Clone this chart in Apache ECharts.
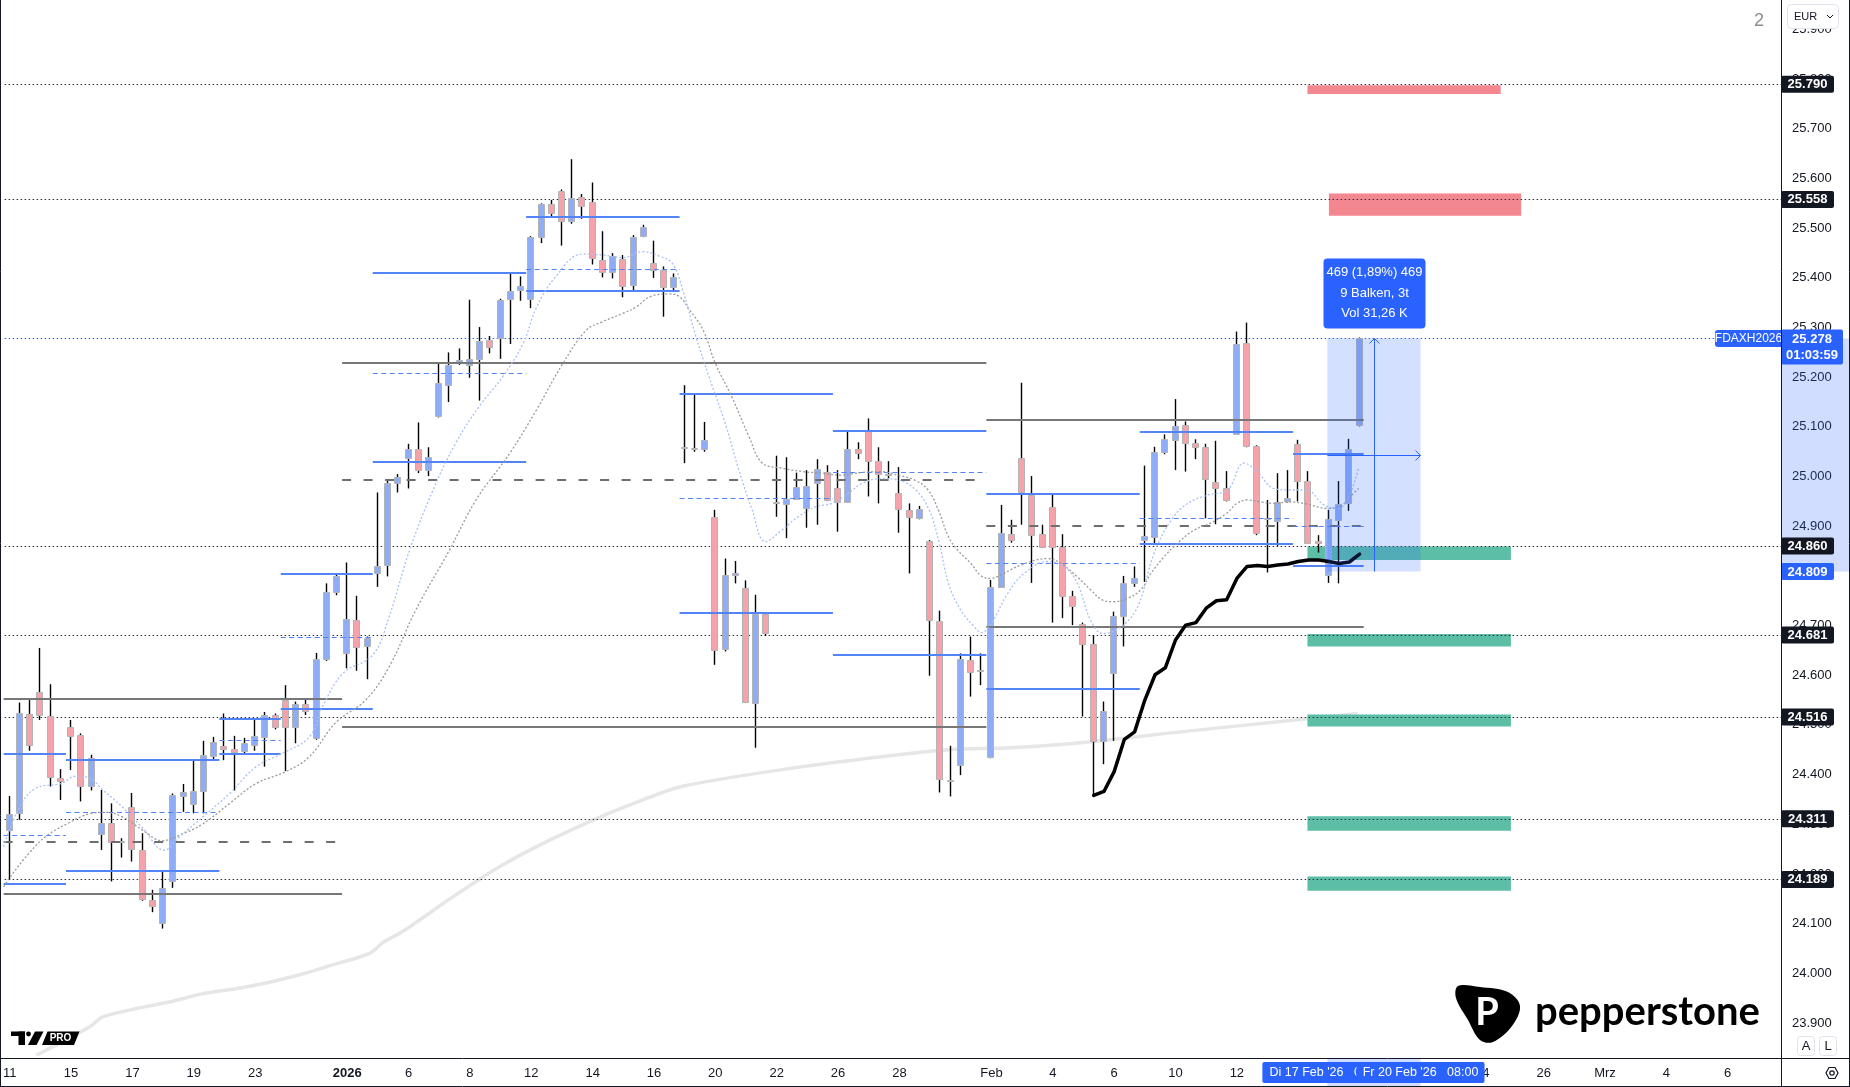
<!DOCTYPE html>
<html><head><meta charset="utf-8">
<script src="https://cdn.jsdelivr.net/npm/echarts@6/dist/echarts.min.js"></script>
<style>html,body{margin:0;padding:0;background:#fff}#c{width:1850px;height:1087px}</style>
</head><body><div id="c"></div>
<script>
// ---------- DATA ----------
// trading-day labels (one per trading day, 3 bars per day), '' = no label
const dayLabels = ['11','','15','','17','','19','','23','','','2026','','6','','8','','12','','14','','16','','20','','22','','26','','28','','','Feb','','4','','6','','10','','12','','16','','18','','20','','24','','26','','Mrz','','4','','6',''];
const opens = [24287,24322,24521,24566,24517,24393,24496,24479,24376,24281,24303,24266,24334,24248,24148,24101,24185,24356,24340,24366,24436,24457,24452,24446,24459,24475,24519,24550,24495,24542,24473,24632,24767,24644,24711,24659,24805,24821,24986,25036,25055,25012,25122,25185,25227,25224,25236,25275,25280,25357,25376,25357,25482,25549,25574,25514,25562,25552,25437,25413,25439,25385,25483,25429,25415,25381,25060,25057,25055,24919,24652,24801,24775,24544,24723,24948,24944,24956,24938,24986,25010,24978,24950,25056,25091,25032,25005,24966,24933,24916,24871,24710,24389,24419,24631,24611,24435,24778,24884,25037,24963,24884,24939,24859,24760,24703,24662,24468,24604,24719,24785,24872,24878,25048,25072,25103,25067,25060,24990,24976,25086,25268,25062,24916,24909,24950,25065,24991,24871,24802,24913,24946,25102];
const highs = [24357,24545,24550,24655,24582,24411,24510,24483,24440,24369,24342,24272,24363,24282,24168,24208,24362,24381,24429,24468,24476,24523,24478,24474,24510,24526,24523,24580,24547,24552,24645,24785,24802,24827,24760,24678,24968,24993,25005,25066,25109,25059,25228,25250,25258,25356,25301,25283,25358,25411,25403,25484,25550,25557,25578,25639,25569,25592,25494,25450,25446,25486,25507,25475,25423,25409,25184,25166,25110,24933,24835,24830,24791,24762,24725,25042,25039,25008,25013,25035,25023,25013,25092,25069,25117,25059,25031,25019,24946,24941,24872,24730,24458,24644,24678,24644,24792,24943,24913,25189,25001,24903,24963,24884,24770,24706,24681,24547,24728,24800,24819,25022,25060,25085,25156,25111,25075,25066,25072,25011,25292,25310,25063,24953,25007,25013,25074,25011,24882,24933,24991,25076,25280];
const lows = [24188,24309,24448,24510,24376,24349,24409,24346,24368,24248,24185,24233,24225,24146,24123,24090,24172,24325,24322,24322,24429,24429,24368,24441,24448,24416,24491,24407,24463,24520,24470,24629,24761,24614,24609,24592,24778,24799,24968,24976,25007,25001,25119,25150,25225,25199,25153,25248,25237,25267,25354,25339,25470,25523,25465,25509,25519,25427,25401,25399,25361,25374,25482,25400,25322,25372,25027,25050,25050,24621,24648,24785,24544,24454,24679,24919,24876,24955,24897,24903,24952,24889,24948,25035,24960,24946,24995,24887,24805,24914,24599,24364,24356,24399,24557,24580,24433,24777,24867,24903,24786,24856,24706,24715,24701,24517,24359,24421,24468,24658,24778,24788,24866,25045,25013,25010,25035,24916,24904,24950,25084,25059,24882,24807,24860,24948,24950,24866,24847,24786,24785,24931,25101];
const closes = [24320,24523,24458,24519,24395,24386,24478,24377,24433,24303,24264,24265,24249,24149,24136,24171,24358,24364,24366,24439,24465,24450,24446,24463,24477,24519,24495,24495,24542,24527,24632,24767,24800,24713,24656,24676,24820,24987,24999,25055,25012,25039,25188,25225,25234,25236,25273,25260,25356,25374,25384,25482,25548,25530,25514,25560,25544,25439,25413,25445,25385,25482,25502,25415,25381,25401,25060,25056,25074,24652,24801,24805,24545,24723,24684,24948,24954,24980,24982,25015,24953,24950,25056,25047,25031,25005,25003,24933,24918,24934,24711,24391,24388,24632,24607,24609,24778,24886,24872,24968,24882,24857,24859,24760,24739,24662,24466,24528,24719,24785,24795,24880,25049,25075,25101,25067,25059,24995,24978,24952,25267,25060,24886,24915,24948,24956,24990,24867,24866,24914,24945,25055,25278];

// indicator lines [barIndex, price]
const fastMA = [[-0.6,24255],[0.9,24332],[2.5,24372],[5.0,24382],[6.5,24397],[7.8,24393],[9.1,24369],[11.0,24335],[13.0,24292],[15.1,24248],[16.6,24275],[18.9,24315],[21.5,24362],[24.1,24416],[26.7,24443],[29.3,24476],[30.6,24537],[32.6,24604],[35.5,24641],[37.1,24718],[39.1,24852],[41.4,24973],[43.6,25067],[45.9,25141],[48.2,25201],[50.2,25268],[51.5,25340],[53.3,25400],[56.0,25448],[58.0,25446],[60.0,25441],[61.9,25453],[63.5,25444],[64.8,25429],[65.8,25376],[67.1,25282],[68.4,25200],[70.0,25105],[71.3,25013],[72.6,24933],[73.9,24869],[75.5,24892],[77.1,24919],[78.8,24939],[80.4,24946],[82.0,24966],[83.3,24986],[85.3,24996],[86.9,24993],[88.6,24973],[89.9,24933],[90.9,24866],[91.8,24785],[93.0,24731],[94.3,24698],[95.0,24686],[96.0,24705],[97.6,24765],[99.2,24805],[101.5,24829],[103.1,24819],[104.4,24785],[105.7,24711],[106.9,24684],[108.7,24698],[110.3,24738],[111.9,24845],[113.6,24913],[115.2,24946],[117.2,24963],[119.1,24973],[120.7,25027],[122.0,25010],[123.6,24976],[125.2,24973],[126.8,24973],[128.5,24943],[129.8,24936],[130.8,24953],[131.9,25017]];
const slowMA = [[-0.6,24174],[0.3,24201],[1.9,24242],[3.5,24275],[5.8,24303],[7.8,24321],[9.4,24324],[11.0,24315],[13.0,24288],[14.9,24267],[16.6,24278],[18.9,24301],[21.5,24342],[24.1,24382],[27.0,24406],[29.3,24436],[31.9,24505],[34.8,24550],[37.1,24617],[39.7,24731],[43.0,24852],[45.6,24953],[48.9,25047],[51.5,25134],[54.1,25228],[56.4,25295],[58.0,25312],[60.0,25329],[61.3,25342],[62.6,25362],[64.5,25368],[65.5,25362],[66.5,25335],[67.8,25295],[69.0,25228],[70.6,25161],[72.3,25080],[73.6,25027],[75.5,25017],[77.5,25010],[79.4,25007],[81.3,25003],[83.2,25008],[85.2,25010],[86.8,25003],[88.5,24993],[89.8,24973],[90.8,24933],[91.8,24879],[92.7,24852],[94.0,24825],[95.0,24800],[96.0,24795],[96.9,24802],[98.9,24822],[101.5,24835],[102.8,24825],[104.4,24798],[105.7,24772],[106.9,24751],[107.9,24748],[109.3,24755],[110.6,24772],[111.6,24805],[112.9,24839],[114.2,24866],[115.8,24892],[117.4,24906],[119.0,24926],[120.0,24946],[121.0,24953],[122.3,24949],[123.6,24946],[125.2,24949],[126.8,24945],[128.8,24936],[130.1,24940],[131.1,24960],[131.9,24976]];
const longMA = [[2.6,23835],[7.8,23892],[9.1,23912],[12.4,23929],[15.6,23942],[18.9,23959],[22.1,23969],[25.4,23982],[28.7,23999],[31.9,24019],[35.2,24040],[36.5,24062],[38.5,24085],[43.2,24152],[48.1,24217],[53.0,24270],[57.9,24316],[61.8,24348],[65.7,24376],[75.5,24410],[85.2,24436],[91.8,24450],[97.9,24454],[104.7,24464],[114.5,24486],[124.3,24507],[131.8,24523]];
const anchoredLine = [[106,24358],[107,24366],[108,24406],[109,24471],[110,24486],[111,24550],[112,24601],[113,24615],[114,24671],[115,24701],[116,24706],[117,24735],[118,24750],[119,24752],[120,24795],[121,24819],[122,24821],[123,24819],[124,24822],[125,24824],[126,24829],[127,24832],[128,24832],[129,24829],[130,24825],[131,24828],[132,24844]];

// level segments [fromBar, toBar, price]
const monthlyLevels = [[-0.6,32.5,24553],[-0.6,32.5,24160],[32.5,95.5,25229],[32.5,95.5,24496],[95.5,132.4,25113],[95.5,132.4,24698]];
const monthlyMid = [[-0.6,32.5,24264],[32.5,95.5,24994],[95.5,132.4,24900]];
const weeklyLevels = [[-0.6,5.5,24442],[-0.6,5.5,24180],[5.5,20.5,24430],[5.5,20.5,24205],[20.5,26.5,24511],[20.5,26.5,24442],[26.5,35.5,24803],[26.5,35.5,24532],[35.5,50.5,25410],[35.5,50.5,25030],[50.5,65.5,25523],[50.5,65.5,25374],[65.5,80.5,25166],[65.5,80.5,24726],[80.5,95.5,25092],[80.5,95.5,24641],[95.5,110.5,24964],[95.5,110.5,24572],[110.5,125.5,25090],[110.5,125.5,24864],[125.5,132.4,25046],[125.5,132.4,24819]];
const weeklyMid = [[-0.6,5.5,24278],[5.5,20.5,24325],[20.5,26.5,24470],[26.5,35.5,24677],[35.5,50.5,25208],[50.5,65.5,25418],[65.5,80.5,24956],[80.5,95.5,25010],[95.5,110.5,24825],[110.5,125.5,24916],[125.5,132.4,24900]];
const dottedLevels = [25790,25558,24860,24681,24516,24311,24189];
const lastPrice = 25278;
const countdown = '01:03:59';
const symbolName = 'FDAXH2026';
// zones [fromBar, toBar, top, bottom]
const redZones = [[126.9,145.8,25788,25770],[129.0,147.8,25570,25525]];
const greenZones = [[126.9,146.8,24859,24832],[126.9,146.8,24683,24658],[126.9,146.8,24521,24497],[126.9,146.8,24316,24287],[126.9,146.8,24195,24166]];
// measurement [fromBar, toBar, low, high]
const measure = [128.85,137.96,24809,25278];
const measureText = ['469 (1,89%) 469','9 Balken, 3t','Vol 31,26 K'];
const measureDates = ["Di 17 Feb '26   08:00","Fr 20 Feb '26   08:00"];

// ---------- CHART ----------
const X_MIN = -0.5, X_MAX = 173.21, Y_MIN = 23800, Y_MAX = 25959.5;
const FONT = '"Liberation Sans", Arial, sans-serif';
const fmt = v => (v/1000).toFixed(3);
const labelIdx = []; dayLabels.forEach((t,d)=>{ if(t) labelIdx.push(d*3); });
const candleData = opens.map((o,i)=>[i,o,highs[i],lows[i],closes[i]]);

function segRender(color, width, dash){
  return function(params, api){
    const a = api.coord([api.value(0), api.value(2)]);
    const b = api.coord([api.value(1), api.value(2)]);
    const y = Math.round(a[1]) + (width % 2 ? 0.5 : 0);
    return {type:'line', shape:{x1:a[0], y1:y, x2:b[0], y2:y},
      style:{stroke:color, lineWidth:width, lineDash:dash||null}};
  };
}
function zoneRender(color){
  return function(params, api){
    const a = api.coord([api.value(0), api.value(2)]);
    const b = api.coord([api.value(1), api.value(3)]);
    return {type:'rect', shape:{x:a[0], y:a[1], width:b[0]-a[0], height:b[1]-a[1]}, style:{fill:color}};
  };
}
function candleRender(params, api){
  const i = api.value(0), o = api.value(1), h = api.value(2), l = api.value(3), c = api.value(4);
  const pO = api.coord([i,o]), pC = api.coord([i,c]), pH = api.coord([i,h]), pL = api.coord([i,l]);
  const cx = Math.round(pO[0]);
  const top = Math.min(pO[1], pC[1]), bot = Math.max(pO[1], pC[1]);
  const up = c >= o;
  return {type:'group', children:[
    {type:'line', shape:{x1:cx-0.5, y1:pH[1], x2:cx-0.5, y2:pL[1]}, style:{stroke:'#000', lineWidth:1.4}},
    {type:'rect', shape:{x:cx-3.5, y:Math.round(top)+0.5, width:6, height:Math.max(1, Math.round(bot-top))},
      style:{fill: up ? '#8fadf7' : '#f5a2aa', stroke:'#b3b3b3', lineWidth:1}}
  ]};
}
function tagRender(bg, w){
  return function(params, api){
    const v = api.value(1);
    const p = api.coord([X_MAX, v]);
    return {type:'group', children:[
      {type:'rect', shape:{x:1781, y:p[1]-8.5, width:w, height:17, r:2}, style:{fill:bg}},
      {type:'text', style:{x:1781+w/2, y:p[1]+0.5, text:fmt(v), fill:'#fff', font:'bold 13px '+FONT, align:'center', verticalAlign:'middle', textAlign:'center', textVerticalAlign:'middle'}}
    ]};
  };
}
function lastPriceRender(params, api){
  const v = api.value(1);
  const p = api.coord([X_MAX, v]);
  return {type:'group', children:[
    {type:'rect', shape:{x:1715, y:p[1]-8.5, width:67, height:17, r:[3,0,0,3]}, style:{fill:'#2962ff'}},
    {type:'text', style:{x:1748.5, y:p[1]+0.5, text:symbolName, fill:'#fff', font:'12px '+FONT, align:'center', verticalAlign:'middle', textAlign:'center', textVerticalAlign:'middle'}},
    {type:'rect', shape:{x:1781, y:p[1]-9, width:62, height:35, r:2}, style:{fill:'#2962ff'}},
    {type:'text', style:{x:1812, y:p[1]+0.5, text:fmt(v), fill:'#fff', font:'bold 13px '+FONT, align:'center', verticalAlign:'middle', textAlign:'center', textVerticalAlign:'middle'}},
    {type:'text', style:{x:1812, y:p[1]+17, text:countdown, fill:'#fff', font:'bold 13px '+FONT, align:'center', verticalAlign:'middle', textAlign:'center', textVerticalAlign:'middle'}}
  ]};
}
function measureRender(params, api){
  const a = api.coord([api.value(0), api.value(3)]);
  const b = api.coord([api.value(1), api.value(2)]);
  const xm = Math.round((a[0]+b[0])/2)+0.5, ym = Math.round((a[1]+b[1])/2)+0.5;
  const blue = '#2962ff';
  const txt = (x,y,t,f) => ({type:'text', style:{x:x, y:y, text:t, fill:'#fff', font:f, align:'center', verticalAlign:'middle', textAlign:'center', textVerticalAlign:'middle'}});
  return {type:'group', children:[
    {type:'rect', shape:{x:a[0], y:a[1], width:b[0]-a[0], height:b[1]-a[1]}, style:{fill:'rgba(41,98,255,0.2)'}},
    {type:'line', shape:{x1:xm, y1:b[1], x2:xm, y2:a[1]}, style:{stroke:blue, lineWidth:1}},
    {type:'polyline', shape:{points:[[xm-5,a[1]+5],[xm,a[1]],[xm+5,a[1]+5]]}, style:{stroke:blue, lineWidth:1, fill:null}},
    {type:'line', shape:{x1:a[0], y1:ym, x2:b[0], y2:ym}, style:{stroke:blue, lineWidth:1}},
    {type:'polyline', shape:{points:[[b[0]-5,ym-5],[b[0],ym],[b[0]-5,ym+5]]}, style:{stroke:blue, lineWidth:1, fill:null}},
    {type:'rect', shape:{x:xm-51, y:a[1]-80, width:102, height:70, r:4}, style:{fill:blue}},
    txt(xm, a[1]-66, measureText[0], '13px '+FONT),
    txt(xm, a[1]-45, measureText[1], '13px '+FONT),
    txt(xm, a[1]-25, measureText[2], '13px '+FONT),
    {type:'rect', shape:{x:1782, y:a[1], width:68, height:b[1]-a[1]}, style:{fill:'rgba(41,98,255,0.22)'}},
    {type:'rect', shape:{x:a[0], y:1059, width:b[0]-a[0], height:27}, style:{fill:'rgba(41,98,255,0.22)'}},
    {type:'rect', shape:{x:a[0]-65, y:1062, width:130, height:21, r:2}, style:{fill:blue}},
    txt(a[0], 1073, measureDates[0], '12.5px '+FONT),
    {type:'rect', shape:{x:b[0]-64, y:1062, width:128, height:21, r:2}, style:{fill:blue}},
    txt(b[0], 1073, measureDates[1], '12.5px '+FONT)
  ]};
}

const baseCustom = {type:'custom', xAxisIndex:0, yAxisIndex:0, silent:true, clip:false};
const lvl = arr => arr.map(v => [X_MIN, X_MAX, v]);

const option = {
  animation:false,
  backgroundColor:'#ffffff',
  grid:{left:2.2, right:69, top:0, bottom:14.4, containLabel:false},
  xAxis:[{
    type:'value', min:X_MIN, max:X_MAX, offset:-14,
    axisLine:{show:false}, axisTick:{show:false}, splitLine:{show:false},
    axisLabel:{customValues:labelIdx, margin:8, color:'#131722', fontSize:13, fontFamily:FONT,
      formatter:v => { const t = dayLabels[Math.round(v/3)] || ''; return t === '2026' ? '{b|2026}' : t; },
      rich:{b:{fontWeight:'bold', fontSize:13, fontFamily:FONT, color:'#131722'}}}
  }],
  yAxis:[{
    type:'value', position:'right', min:Y_MIN, max:Y_MAX, interval:100,
    axisLine:{show:false}, axisTick:{show:false}, splitLine:{show:false},
    axisLabel:{margin:11, color:'#131722', fontSize:13, fontFamily:FONT,
      formatter:v => (Math.round(v) % 100 === 0 && v >= 23850) ? fmt(v) : ''}
  }],
  series:[
    {type:'line', data:longMA, smooth:0.3, showSymbol:false, z:1, silent:true,
      lineStyle:{color:'#e6e6e6', width:3.5}},
    Object.assign({}, baseCustom, {z:2, data:redZones, renderItem:zoneRender('#f38790'), encode:{x:[0,1], y:[2,3]}}),
    Object.assign({}, baseCustom, {z:2, data:greenZones, renderItem:zoneRender('#5dbea6'), encode:{x:[0,1], y:[2,3]}}),
    Object.assign({}, baseCustom, {z:3, data:lvl(dottedLevels), renderItem:segRender('#2a2e39',1,[1.5,2.5]), encode:{x:[0,1], y:2}}),
    Object.assign({}, baseCustom, {z:3, data:lvl([lastPrice]), renderItem:segRender('#2962ff',1,[1.5,2.5]), encode:{x:[0,1], y:2}}),
    Object.assign({}, baseCustom, {z:4, data:candleData, renderItem:candleRender, encode:{x:0, y:[1,2,3,4]}}),
    Object.assign({}, baseCustom, {z:5, data:monthlyLevels, renderItem:segRender('#777777',2), encode:{x:[0,1], y:2}}),
    Object.assign({}, baseCustom, {z:5, data:monthlyMid, renderItem:segRender('#6e6e6e',2,[9,12.5]), encode:{x:[0,1], y:2}}),
    Object.assign({}, baseCustom, {z:5, data:weeklyLevels, renderItem:segRender('#5284f7',2), encode:{x:[0,1], y:2}}),
    Object.assign({}, baseCustom, {z:5, data:weeklyMid, renderItem:segRender('#5284f7',1,[5,3.5]), encode:{x:[0,1], y:2}}),
    {type:'line', data:slowMA, smooth:0.4, showSymbol:false, z:6, silent:true,
      lineStyle:{color:'#9a9a9a', width:1.3, type:[2,2]}},
    {type:'line', data:fastMA, smooth:0.4, showSymbol:false, z:6, silent:true,
      lineStyle:{color:'#a9c0f3', width:1.3, type:[2,2]}},
    {type:'line', data:anchoredLine, smooth:false, showSymbol:false, z:7, silent:true,
      lineStyle:{color:'#000000', width:3.5, join:'round', cap:'round'}},
    Object.assign({}, baseCustom, {z:8, data:[measure], renderItem:measureRender, encode:{x:[0,1], y:[2,3]}}),
    Object.assign({}, baseCustom, {z:9, data:dottedLevels.map(v=>[X_MAX,v]), renderItem:tagRender('#131722',53), encode:{x:0, y:1}}),
    Object.assign({}, baseCustom, {z:9, data:[[X_MAX, measure[2]]], renderItem:tagRender('#2962ff',53), encode:{x:0, y:1}}),
    Object.assign({}, baseCustom, {z:10, data:[[X_MAX, lastPrice]], renderItem:lastPriceRender, encode:{x:0, y:1}})
  ],
  graphic:[
    {type:'line', z:50, shape:{x1:1781.5, y1:0, x2:1781.5, y2:1087}, style:{stroke:'#131722', lineWidth:1}},
    {type:'line', z:50, shape:{x1:0, y1:1058.5, x2:1850, y2:1058.5}, style:{stroke:'#131722', lineWidth:1}},
    {type:'line', z:50, shape:{x1:0.5, y1:0, x2:0.5, y2:1087}, style:{stroke:'#131722', lineWidth:1}},
    {type:'line', z:50, shape:{x1:0, y1:1086.5, x2:1850, y2:1086.5}, style:{stroke:'#131722', lineWidth:1}},
    {type:'line', z:50, shape:{x1:1849.5, y1:0, x2:1849.5, y2:1087}, style:{stroke:'#131722', lineWidth:1}},
    {type:'text', z:50, style:{x:1759, y:21, text:'2', fill:'#8a8e99', font:'18px '+FONT, textAlign:'center', textVerticalAlign:'middle', align:'center', verticalAlign:'middle'}},
    {type:'rect', z:60, shape:{x:1787.5, y:4.5, width:51, height:24, r:4}, style:{fill:'#fff', stroke:'#e0e3eb', lineWidth:1}},
    {type:'text', z:61, style:{x:1794, y:17, text:'EUR', fill:'#131722', font:'11px '+FONT, textVerticalAlign:'middle', verticalAlign:'middle'}},
    {type:'polyline', z:61, shape:{points:[[1827,15],[1830,18],[1833,15]]}, style:{stroke:'#131722', lineWidth:1, fill:null}},
    {type:'rect', z:60, shape:{x:1797.5, y:1036.5, width:17, height:19, r:3}, style:{fill:'#fff', stroke:'#e0e3eb', lineWidth:1}},
    {type:'text', z:61, style:{x:1806, y:1046.5, text:'A', fill:'#131722', font:'13px '+FONT, textAlign:'center', textVerticalAlign:'middle', align:'center', verticalAlign:'middle'}},
    {type:'rect', z:60, shape:{x:1819.5, y:1036.5, width:17, height:19, r:3}, style:{fill:'#fff', stroke:'#e0e3eb', lineWidth:1}},
    {type:'text', z:61, style:{x:1828, y:1046.5, text:'L', fill:'#131722', font:'13px '+FONT, textAlign:'center', textVerticalAlign:'middle', align:'center', verticalAlign:'middle'}},
    {type:'polygon', z:61, shape:{points:[[1826,1073],[1829,1067.5],[1835,1067.5],[1838,1073],[1835,1078.5],[1829,1078.5]]}, style:{fill:null, stroke:'#131722', lineWidth:1.2}},
    {type:'circle', z:61, shape:{cx:1832, cy:1073, r:2.2}, style:{fill:null, stroke:'#131722', lineWidth:1.2}},
    {type:'rect', z:60, shape:{x:11, y:1031.5, width:14, height:4.5}, style:{fill:'#000'}},
    {type:'rect', z:60, shape:{x:18.5, y:1031.5, width:6.5, height:13.5}, style:{fill:'#000'}},
    {type:'circle', z:60, shape:{cx:28.5, cy:1034, r:2.4}, style:{fill:'#000'}},
    {type:'polygon', z:60, shape:{points:[[35,1031.5],[43.5,1031.5],[36.5,1045],[28,1045]]}, style:{fill:'#000'}},
    {type:'polygon', z:60, shape:{points:[[47.5,1031.5],[79.5,1031.5],[74,1045],[42,1045]]}, style:{fill:'#000'}},
    {type:'text', z:61, style:{x:60.5, y:1038.5, text:'PRO', fill:'#fff', font:'bold 10px '+FONT, textAlign:'center', textVerticalAlign:'middle', align:'center', verticalAlign:'middle'}},
    {type:'polygon', z:60, shape:{smooth:0.35, points:[[1458,986],[1480,987],[1508,992],[1520,1006],[1512,1026],[1493,1042],[1480,1040],[1468,1020],[1456,998]]}, style:{fill:'#000'}},
    {type:'text', z:61, style:{x:1487, y:1013, text:'P', fill:'#fff', font:'bold 38px Lato, '+FONT, textAlign:'center', textVerticalAlign:'middle', align:'center', verticalAlign:'middle'}},
    {type:'text', z:60, style:{x:1535, y:1012, text:'pepperstone', fill:'#000', font:'bold 40px Lato, '+FONT, textVerticalAlign:'middle', verticalAlign:'middle'}}
  ]
};
const chart = echarts.init(document.getElementById('c'), null, {renderer:'canvas', width:1850, height:1087});
chart.setOption(option);
</script>
</body></html>
